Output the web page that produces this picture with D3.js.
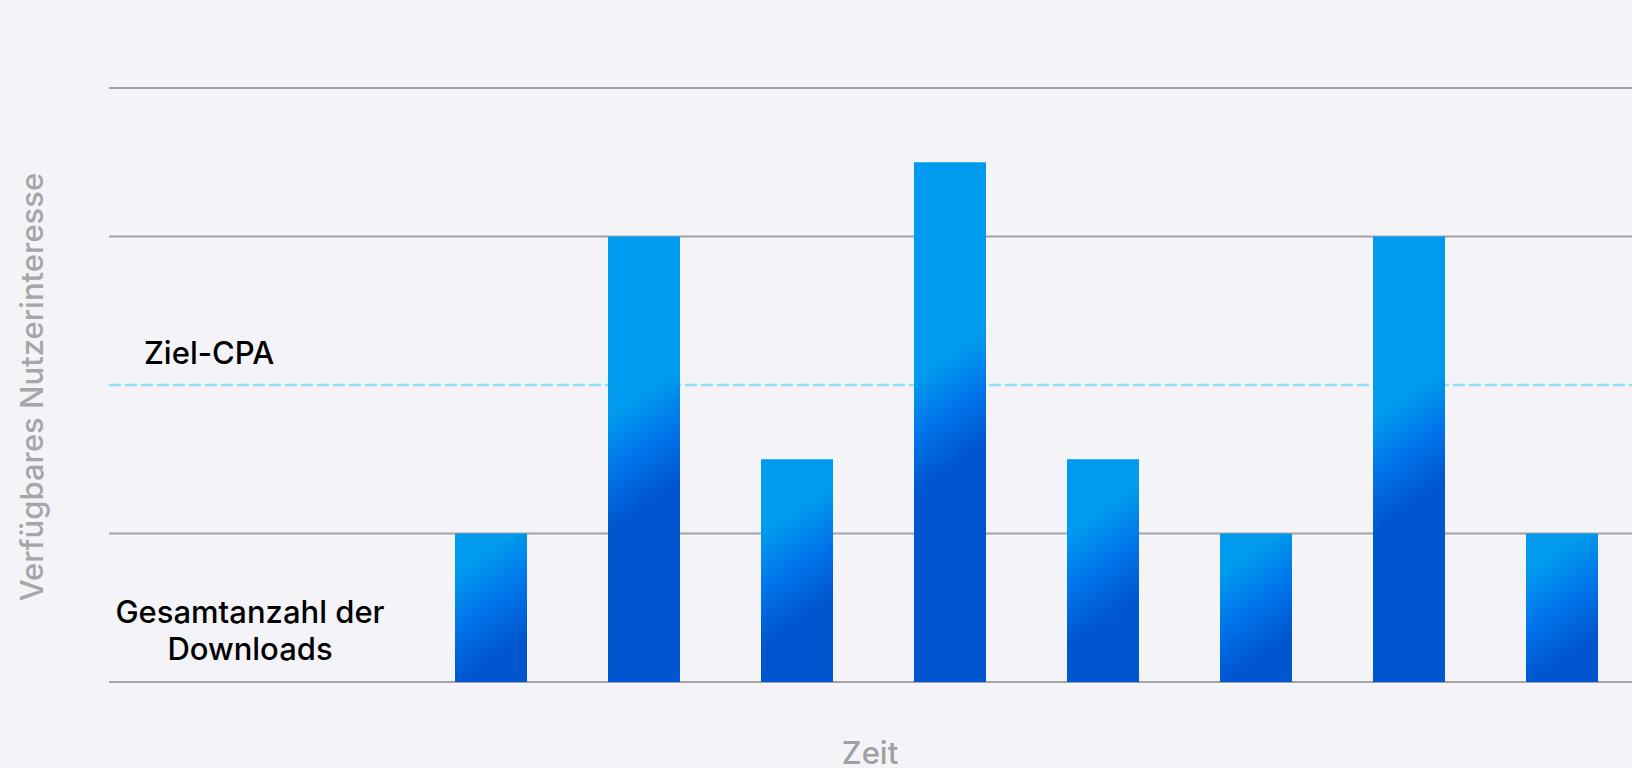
<!DOCTYPE html>
<html>
<head>
<meta charset="utf-8">
<script src="https://cdn.jsdelivr.net/npm/d3@7"></script>
<style>
  html, body { margin: 0; padding: 0; background: #f4f4f8; }
  svg { display: block; }
  text { font-family: Inter, "Noto Sans", sans-serif; }
</style>
</head>
<body>
<svg id="chart" width="1632" height="768"></svg>
<script>
// Data
const categories = ["P1", "P2", "P3", "P4", "P5", "P6", "P7", "P8"];
const values = [1, 3, 1.5, 3.5, 1.5, 1, 3, 1];
const gridTicks = [0, 1, 3, 4];
const targetValue = 2;
const targetLabel = "Ziel-CPA";
const baseLabel = ["Gesamtanzahl der", "Downloads"];
const yTitle = "Verfügbares Nutzerinteresse";
const xTitle = "Zeit";

const W = 1632, H = 768;
const svg = d3.select("#chart");
svg.append("rect").attr("width", W).attr("height", H).attr("fill", "#f4f4f8");

const y = d3.scaleLinear().domain([0, 4]).range([682, 88]);
const x = d3.scaleBand().domain(categories).range([455, 1598]).paddingInner(0.5294).paddingOuter(0);
const gridX0 = 109, gridX1 = W;

// gridlines
svg.append("g").selectAll("line").data(gridTicks).join("line")
  .attr("x1", gridX0).attr("x2", gridX1)
  .attr("y1", d => y(d)).attr("y2", d => y(d))
  .attr("stroke", "#a3a3a6").attr("stroke-width", 2);

// target dashed line
svg.append("line")
  .attr("x1", gridX0).attr("x2", gridX1)
  .attr("y1", y(targetValue)).attr("y2", y(targetValue))
  .attr("stroke", "#90e0fb").attr("stroke-width", 2.6)
  .attr("stroke-dasharray", "12,4");

// gradients per bar
const defs = svg.append("defs");
const a = 0.7;
values.forEach((v, i) => {
  const bx = x(categories[i]), bw = x.bandwidth();
  const top = y(v), bot = y(0);
  const cx = bx + bw / 2;
  const ymid = top + 0.48 * (bot - top);
  const half = 56;
  const k = 1 / (a * a + 1);
  const g = defs.append("linearGradient")
    .attr("id", "g" + i)
    .attr("gradientUnits", "userSpaceOnUse")
    .attr("x1", cx - half * k * a).attr("y1", ymid - half * k)
    .attr("x2", cx + half * k * a).attr("y2", ymid + half * k);
  g.append("stop").attr("offset", 0).attr("stop-color", "#009bee");
  g.append("stop").attr("offset", 0.5).attr("stop-color", "#0074ea");
  g.append("stop").attr("offset", 1).attr("stop-color", "#0056cf");
});

svg.append("g").selectAll("rect").data(values).join("rect")
  .attr("x", (d, i) => x(categories[i]))
  .attr("y", d => y(d))
  .attr("width", x.bandwidth())
  .attr("height", d => y(0) - y(d))
  .attr("fill", (d, i) => `url(#g${i})`);

// labels
svg.append("text").attr("x", 144).attr("y", 364)
  .attr("font-size", 31).attr("font-weight", 500).attr("fill", "#000").text(targetLabel);

svg.append("text").attr("x", 250).attr("y", 623)
  .attr("font-size", 31).attr("font-weight", 500).attr("fill", "#000").attr("text-anchor", "middle")
  .selectAll("tspan").data(baseLabel).join("tspan")
  .attr("x", 250).attr("dy", (d, i) => i === 0 ? 0 : 37).text(d => d);

svg.append("text")
  .attr("transform", `translate(43, ${(y(0) + y(4)) / 2 + 2}) rotate(-90)`)
  .attr("text-anchor", "middle").attr("font-size", 31).attr("font-weight", 500).attr("fill", "#a6a6a8")
  .text(yTitle);

svg.append("text").attr("x", 870).attr("y", 764)
  .attr("text-anchor", "middle").attr("font-size", 31).attr("font-weight", 500).attr("fill", "#a0a0a2")
  .text(xTitle);
</script>
</body>
</html>
